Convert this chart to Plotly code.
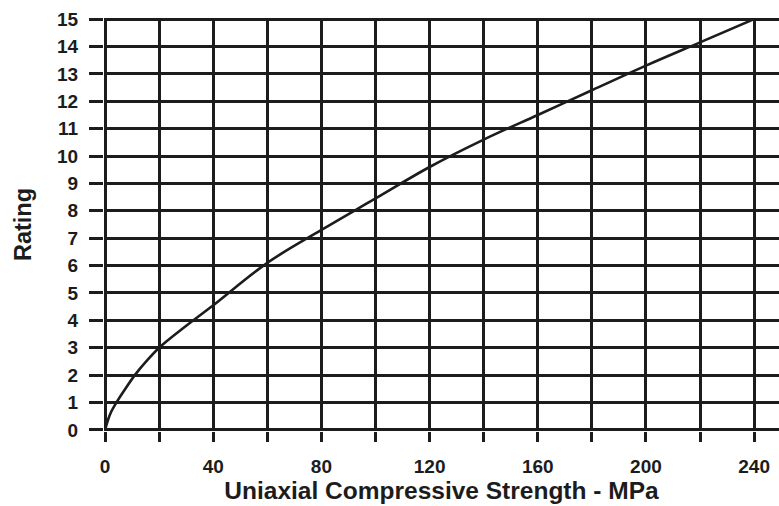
import plotly.graph_objects as go

# Rating versus uniaxial compressive strength
ucs_mpa = [0, 1.1, 2.3, 4.2, 7.5, 11.0, 15.2, 20, 30, 40, 60, 80, 100, 120, 140, 160, 180, 200, 220, 240]
rating = [0, 0.37, 0.67, 1, 1.5, 2, 2.5, 3, 3.8, 4.55, 6.1, 7.3, 8.45, 9.6, 10.6, 11.5, 12.4, 13.3, 14.15, 15]

x_ticks = list(range(0, 241, 20))
x_labels = [str(v) if v % 40 == 0 else "" for v in x_ticks]
y_ticks = list(range(0, 16))
y_labels = [str(v) for v in y_ticks]

INK = "#1c1c1c"
FONT = "Liberation Sans, Arial, sans-serif"

fig = go.Figure()
fig.add_trace(go.Scatter(
    x=ucs_mpa, y=rating, mode="lines",
    line=dict(color=INK, width=2.6, shape="spline", smoothing=1.0),
    hoverinfo="skip", showlegend=False,
))

fig.update_layout(
    width=779, height=506,
    margin=dict(l=104, r=0, t=18, b=75),
    paper_bgcolor="white", plot_bgcolor="white",
    font=dict(family=FONT, color=INK),
)
fig.update_xaxes(
    range=[-0.4, 249.2],
    tickmode="array", tickvals=x_ticks, ticktext=x_labels,
    showgrid=True, gridcolor=INK, gridwidth=3,
    zeroline=True, zerolinecolor=INK, zerolinewidth=3,
    ticks="outside", ticklen=10, tickwidth=3, tickcolor=INK,
    ticklabelstandoff=8,
    tickfont=dict(size=19, family=FONT, weight="bold"),
    showline=False,
    title=dict(text="Uniaxial Compressive Strength - MPa",
               font=dict(size=24.5, family=FONT, weight="bold"), standoff=1),
)
fig.update_yaxes(
    range=[-0.04, 15.04],
    tickmode="array", tickvals=y_ticks, ticktext=y_labels,
    showgrid=True, gridcolor=INK, gridwidth=3,
    zeroline=True, zerolinecolor=INK, zerolinewidth=3,
    ticks="outside", ticklen=14, tickwidth=3, tickcolor=INK,
    ticklabelstandoff=7,
    tickfont=dict(size=19, family=FONT, weight="bold"),
    showline=False,
    title=dict(text="Rating", font=dict(size=23.5, family=FONT, weight="bold"), standoff=18),
)

fig.write_html("out.html")
